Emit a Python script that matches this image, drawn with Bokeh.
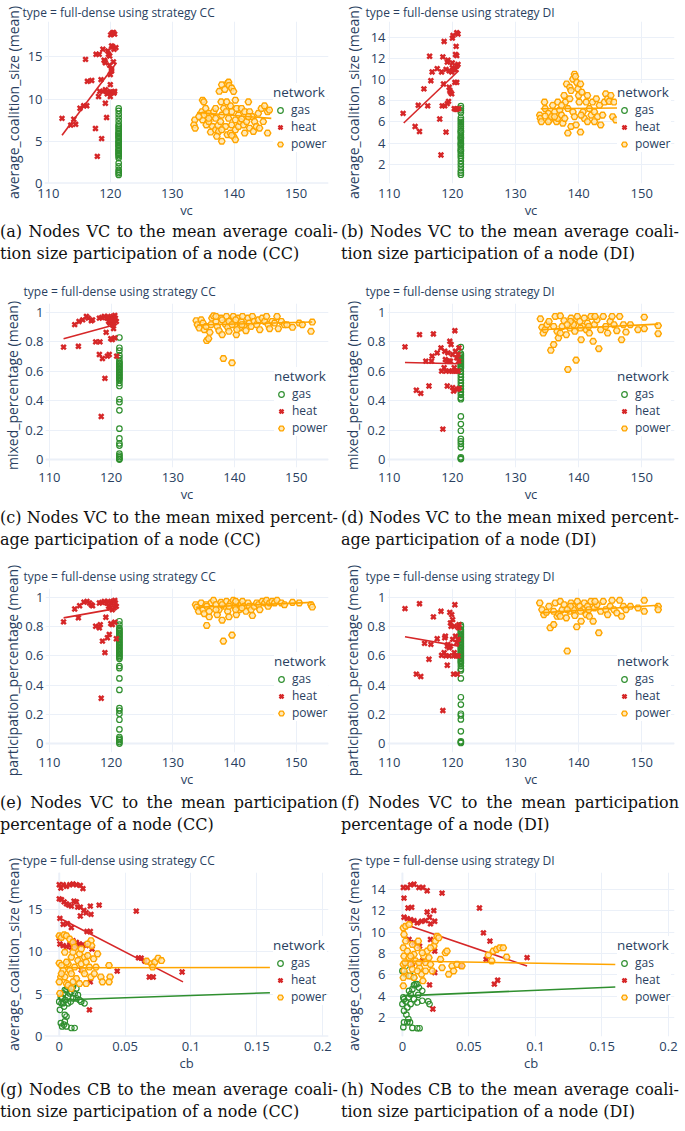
from bokeh.plotting import figure
from bokeh.models import (FixedTicker, CustomJSTickFormatter, Legend, LegendItem,
                          Span, Div, Range1d)
from bokeh.layouts import column, row
from bokeh.embed import file_html
from bokeh.resources import INLINE

# ---------------- data ----------------
GAS_VC = 121.35  # all gas nodes share the same vc value

# (a) VC vs average_coalition_size, CC
HEAT_A = [(112.2,7.7),(113.6,6.9),(114.1,7.6),(114.4,7.0),(115.1,8.9),(115.7,9.2),(116.2,9.2),
          (116.0,14.7),(116.3,12.1),(117.0,12.2),(117.6,6.5),(117.9,3.2),(117.7,15.3),(118.2,15.3),
          (118.5,12.3),(118.1,10.3),(118.6,5.3),(118.8,15.9),(119.0,14.6),(119.1,14.5),(119.2,14.3),
          (118.3,10.9),(118.8,10.9),(119.2,9.5),(119.4,7.8),(119.7,15.3),(119.9,15.1),(120.05,17.6),
          (120.3,17.8),(120.5,17.9),(120.7,17.7),(120.2,16.3),(120.4,16.2),(120.0,10.8),(120.2,10.8),
          (120.4,10.8),(120.6,10.7),(120.0,11.7),(120.2,13.5),(120.0,12.9),(120.2,13.3),(119.6,15.7),
          (120.5,14.4),(119.9,14.0),(120.7,10.9),(119.5,10.6),(120.0,10.3),(119.2,11.1),(119.5,10.9),
          (120.6,15.9),(120.9,16.1)]
POWER_A = [(133.65,7.52),(133.5,6.93),(133.7,6.54),(134.9,9.86),(135.1,9.66),(134.8,8.49),(135.4,8.88),
           (135.7,8.10),(135.9,8.30),(134.9,7.52),(135.5,6.93),(135.9,7.32),(136.3,7.91),(136.7,8.49),
           (137.0,8.88),(136.5,6.74),(136.2,6.08),(137.0,6.35),(137.4,6.86),(137.8,7.32),(138.0,8.10),
           (138.3,8.88),(137.9,9.66),(137.6,10.91),(138.0,11.69),(138.5,11.14),(138.9,11.84),(139.1,12.0),
           (139.2,11.6),(139.6,11.3),(139.9,10.9),(140.2,9.86),(140.4,8.88),(140.7,8.10),(139.6,8.49),
           (139.4,9.19),(138.8,9.66),(138.7,8.49),(139.1,7.71),(139.6,6.93),(140.2,6.35),(140.7,6.74),
           (137.5,6.15),(138.0,4.99),(138.9,5.77),(139.4,5.96),(139.9,5.57),(140.2,5.18),(138.6,6.74),
           (137.0,7.71),(141.2,8.88),(141.7,8.49),(142.3,9.66),(142.5,8.49),(142.9,7.91),(143.3,7.32),
           (143.9,8.30),(144.4,8.88),(144.9,9.19),(145.4,8.49),(145.7,8.69),(141.0,7.32),(141.5,6.93),
           (142.0,7.32),(142.5,6.54),(143.1,6.15),(143.6,6.74),(144.1,6.54),(141.7,5.96),(139.6,5.69),
           (138.0,6.35),(137.2,5.57),(135.9,7.71),(135.1,8.10),(134.3,7.91),(145.4,5.96),(144.7,7.32),
           (142.3,7.91),(141.2,7.64),(140.2,7.52)]
GAS_A = [8.9, 8.6, 8.2, 7.8, 7.4, 7.0, 6.8, 6.6, 6.4, 6.2, 6.0, 5.8, 5.6, 5.4, 5.2, 5.0, 4.8, 4.6,
         4.4, 4.2, 4.0, 3.8, 3.6, 3.4, 3.2, 3.0, 2.4, 2.0, 1.6, 1.4, 1.2, 1.0, 5.9, 5.5, 4.9, 4.5, 3.9, 3.5]
TREND_HEAT_A = [(112.2, 5.7), (121.0, 14.3)]
TREND_POWER_A = [(134.0, 8.4), (146.0, 7.7)]

# (b) VC vs average_coalition_size, DI
HEAT_B = [(112.2,6.81),(114.1,5.57),(114.8,5.10),(114.6,7.58),(115.5,9.13),(116.1,7.52),(116.4,12.23),
          (116.6,9.91),(116.8,10.74),(117.6,11.05),(118.0,6.28),(118.2,2.87),(118.3,10.74),(118.4,7.52),
          (118.5,12.17),(118.7,13.63),(118.6,9.60),(118.8,7.52),(119.0,5.04),(119.0,10.99),(119.2,11.67),
          (119.3,11.86),(119.4,7.95),(119.2,7.74),(119.5,9.29),(119.6,8.98),(119.7,8.82),(119.9,10.74),
          (120.0,13.94),(120.1,14.19),(120.3,7.27),(120.5,7.21),(120.7,7.21),(121.0,7.27),(120.4,9.75),
          (120.7,9.75),(120.5,10.99),(120.7,11.30),(120.9,11.46),(120.5,12.39),(120.7,12.29),(120.6,13.16),
          (120.7,14.47),(120.9,14.34),(120.0,11.15),(119.5,10.84),(120.2,10.93),(119.9,8.67),(120.0,11.6)]
POWER_B = [(133.85,6.65),(133.95,6.34),(134.1,6.03),(134.6,7.89),(134.7,7.27),(135.2,6.81),(135.4,6.19),
           (135.7,6.50),(135.9,7.58),(136.2,6.96),(136.5,6.03),(136.7,6.34),(137.0,7.12),(137.3,6.65),
           (137.5,5.88),(137.7,8.51),(137.9,7.89),(138.1,9.60),(138.3,4.95),(138.6,9.29),(138.8,8.98),
           (139.1,10.06),(139.35,10.53),(139.5,10.31),(139.7,9.75),(139.9,9.13),(140.0,8.51),(140.1,7.89),
           (140.3,9.60),(140.5,8.82),(140.7,6.96),(138.8,5.57),(139.6,5.72),(140.3,5.04),(140.9,6.34),
           (141.2,7.89),(141.4,8.51),(141.7,7.27),(142.0,6.65),(142.2,7.89),(142.5,6.96),(142.8,8.20),
           (143.0,6.50),(143.3,7.58),(143.5,5.72),(143.8,6.65),(144.1,7.89),(144.3,8.67),(144.6,8.20),
           (144.85,7.95),(145.1,8.51),(145.4,6.50),(145.6,7.89),(145.9,6.19),(136.7,7.89),(137.3,7.58),
           (138.3,7.27),(139.1,6.96),(139.35,6.50),(140.4,6.65),(141.4,6.03),(137.8,6.34),(136.2,6.50),
           (135.2,6.03),(134.7,6.56),(138.6,8.20),(142.5,6.03)]
GAS_B = [7.5, 7.3, 7.1, 6.9, 6.4, 6.2, 6.0, 5.8, 5.6, 5.4, 5.2, 5.0, 4.8, 4.6, 4.4, 4.2, 4.0, 3.8,
         3.6, 3.4, 3.2, 3.0, 2.8, 2.6, 2.3, 2.0, 1.7, 1.4, 1.2, 1.0, 5.1, 4.5, 3.9, 3.3]
TREND_HEAT_B = [(112.3, 5.9), (121.0, 10.85)]
TREND_POWER_B = [(134.0, 7.25), (146.2, 7.32)]

# (c) VC vs mixed_percentage, CC
HEAT_C = [(112.3,0.764),(114.1,0.917),(114.7,0.770),(114.8,0.939),(115.4,0.950),(116.0,0.973),
          (116.3,0.962),(116.8,0.944),(117.0,0.950),(117.5,0.800),(118.2,0.800),(118.1,0.714),
          (118.4,0.293),(118.6,0.687),(119.0,0.552),(119.2,0.865),(119.4,0.703),(119.7,0.714),
          (119.95,0.822),(120.2,0.815),(120.6,0.827),(120.4,0.890),(120.05,0.962),(120.3,0.973),
          (120.6,0.980),(120.85,0.939),(119.6,0.939),(119.3,0.962),(118.9,0.973),(118.5,0.966),
          (118.1,0.962),(119.8,0.928),(120.2,0.917),(120.5,0.928),(120.7,0.962),(120.9,0.703),
          (120.5,0.950),(119.95,0.950),(119.5,0.973)]
POWER_C = [(133.8,0.944),(134.0,0.917),(134.3,0.894),(134.6,0.950),(134.9,0.928),(135.1,0.883),
           (135.5,0.809),(135.8,0.822),(136.0,0.865),(136.35,0.962),(136.6,0.977),(137.0,0.939),
           (137.2,0.905),(137.5,0.876),(137.8,0.962),(138.0,0.849),(138.2,0.687),(138.5,0.921),
           (138.7,0.973),(138.9,0.899),(139.1,0.872),(139.4,0.950),(139.6,0.658),(139.8,0.973),
           (140.05,0.917),(140.3,0.849),(140.6,0.962),(140.8,0.894),(141.1,0.939),(141.3,0.973),
           (141.6,0.917),(141.85,0.876),(142.2,0.962),(142.4,0.928),(142.7,0.905),(142.9,0.973),
           (143.2,0.939),(143.6,0.917),(143.9,0.950),(144.1,0.883),(144.5,0.962),(144.9,0.939),
           (145.2,0.973),(145.45,0.917),(145.7,0.890),(146.1,0.939),(146.5,0.928),(146.9,0.973),
           (147.1,0.890),(147.6,0.939),(148.1,0.917),(148.5,0.917),(149.4,0.899),(150.5,0.928),
           (151.0,0.917),(152.4,0.872),(152.6,0.935),(137.0,0.973),(138.0,0.950),(139.1,0.939),
           (140.2,0.950),(141.2,0.917),(135.4,0.905),(136.2,0.917),(139.6,0.917),(140.4,0.883)]
GAS_C = [0.83, 0.76, 0.74, 0.71, 0.69, 0.67, 0.66, 0.65, 0.64, 0.63, 0.62, 0.61, 0.60, 0.59, 0.58,
         0.57, 0.56, 0.55, 0.54, 0.52, 0.50, 0.41, 0.39, 0.335, 0.21, 0.144, 0.11, 0.095, 0.04,
         0.027, 0.016, 0.005, 0.0]
TREND_HEAT_C = [(112.3, 0.822), (120.9, 0.92)]
TREND_POWER_C = [(134.0, 0.915), (152.6, 0.935)]

# (d) VC vs mixed_percentage, DI
HEAT_D = [(112.5,0.766),(114.8,0.849),(114.3,0.471),(115.0,0.450),(115.8,0.669),(116.3,0.500),
          (116.7,0.669),(116.8,0.703),(117.0,0.854),(117.6,0.725),(118.2,0.759),(118.5,0.207),
          (118.3,0.601),(118.7,0.624),(118.8,0.736),(119.0,0.601),(119.2,0.500),(119.3,0.725),
          (119.5,0.669),(119.6,0.804),(119.8,0.782),(119.9,0.601),(120.05,0.489),(120.2,0.466),
          (120.4,0.876),(120.5,0.736),(120.7,0.691),(120.9,0.714),(120.6,0.601),(120.8,0.477),
          (121.0,0.669),(119.7,0.669),(120.3,0.624),(119.2,0.669),(119.5,0.601),(120.2,0.601),
          (120.9,0.601),(120.05,0.714),(121.05,0.759),(121.1,0.484),(118.9,0.680)]
POWER_D = [(133.95,0.957),(134.2,0.899),(134.4,0.860),(134.7,0.883),(135.0,0.917),(135.6,0.743),
           (136.05,0.782),(136.3,0.973),(136.6,0.872),(136.8,0.827),(137.1,0.977),(137.4,0.905),
           (137.7,0.944),(138.05,0.849),(138.3,0.613),(138.6,0.894),(138.8,0.962),(139.1,0.928),
           (139.4,0.872),(139.6,0.676),(139.8,0.973),(140.2,0.939),(140.4,0.815),(140.7,0.905),
           (140.9,0.962),(141.2,0.883),(141.4,0.928),(141.7,0.860),(141.95,0.973),(142.3,0.804),
           (142.5,0.917),(142.9,0.950),(143.2,0.754),(143.5,0.883),(143.9,0.973),(144.3,0.905),
           (144.6,0.860),(145.0,0.939),(145.3,0.973),(145.6,0.917),(146.05,0.876),(146.5,0.973),
           (146.8,0.815),(147.1,0.917),(147.5,0.867),(148.2,0.917),(149.4,0.883),(150.4,0.890),
           (150.4,0.968),(152.6,0.910),(152.6,0.856),(139.2,0.917),(138.7,0.939),(140.3,0.894),
           (141.6,0.905),(137.1,0.860),(138.2,0.917),(136.05,0.905),(135.3,0.939),(142.6,0.973)]
GAS_D = [0.764, 0.72, 0.71, 0.70, 0.69, 0.68, 0.67, 0.66, 0.65, 0.64, 0.63, 0.62, 0.60, 0.58, 0.56,
         0.54, 0.52, 0.50, 0.48, 0.46, 0.44, 0.42, 0.41, 0.293, 0.241, 0.196, 0.14, 0.124, 0.106,
         0.083, 0.015, 0.008, 0.003]
TREND_HEAT_D = [(112.5, 0.66), (121.0, 0.651)]
TREND_POWER_D = [(134.0, 0.883), (152.6, 0.921)]

# (e) VC vs participation_percentage, CC
HEAT_E = [(112.3,0.833),(114.1,0.921),(114.7,0.860),(114.9,0.943),(115.6,0.968),(116.1,0.973),
          (116.5,0.962),(116.8,0.950),(117.0,0.943),(117.5,0.803),(118.1,0.792),(118.4,0.310),
          (118.25,0.814),(118.6,0.701),(119.0,0.622),(119.15,0.864),(119.4,0.724),(119.7,0.747),
          (119.95,0.821),(120.2,0.814),(120.6,0.830),(120.85,0.717),(120.05,0.962),(120.3,0.973),
          (120.6,0.980),(120.85,0.939),(119.6,0.939),(119.3,0.962),(118.9,0.973),(118.5,0.966),
          (118.1,0.962),(119.8,0.928),(120.2,0.916),(120.5,0.928),(120.7,0.962),(119.5,0.973)]
POWER_E = [(133.7,0.950),(133.9,0.934),(134.2,0.905),(134.6,0.962),(134.9,0.916),(135.1,0.889),
           (135.5,0.808),(135.9,0.867),(136.2,0.962),(136.6,0.980),(137.0,0.950),(137.2,0.882),
           (137.5,0.916),(137.8,0.966),(138.0,0.844),(138.2,0.701),(138.5,0.939),(138.7,0.973),
           (138.9,0.905),(139.1,0.867),(139.4,0.962),(139.6,0.742),(139.8,0.980),(140.05,0.939),
           (140.3,0.882),(140.6,0.962),(140.8,0.916),(141.1,0.950),(141.3,0.973),(141.6,0.939),
           (141.85,0.905),(142.2,0.962),(142.4,0.939),(142.7,0.916),(142.9,0.876),(143.2,0.939),
           (143.6,0.962),(143.9,0.950),(144.1,0.916),(144.5,0.973),(144.9,0.962),(145.2,0.980),
           (145.45,0.939),(145.7,0.962),(146.1,0.973),(146.5,0.962),(146.9,0.980),(147.6,0.962),
           (148.1,0.950),(149.4,0.966),(150.5,0.962),(152.4,0.950),(152.6,0.934),(135.4,0.950),
           (137.0,0.916),(138.0,0.950),(139.1,0.939),(140.2,0.916),(141.2,0.928),(135.5,0.939),
           (135.9,0.905),(140.2,0.973)]
GAS_E = [0.837, 0.814, 0.79, 0.78, 0.77, 0.76, 0.75, 0.74, 0.73, 0.72, 0.71, 0.70, 0.69, 0.68,
         0.67, 0.66, 0.65, 0.64, 0.63, 0.62, 0.61, 0.60, 0.59, 0.58, 0.53, 0.516, 0.446, 0.367,
         0.242, 0.226, 0.204, 0.163, 0.097, 0.045, 0.034, 0.023, 0.01, 0.0]
TREND_HEAT_E = [(112.3, 0.86), (120.9, 0.925)]
TREND_POWER_E = [(133.8, 0.932), (152.6, 0.966)]

# (f) VC vs participation_percentage, DI
HEAT_F = [(112.5,0.923),(114.8,0.957),(114.3,0.475),(115.0,0.459),(115.6,0.686),(116.3,0.577),
          (116.6,0.679),(117.0,0.867),(117.6,0.717),(118.2,0.905),(118.5,0.226),(118.3,0.604),
          (118.7,0.622),(118.8,0.724),(119.0,0.600),(119.2,0.536),(119.3,0.679),(119.5,0.656),
          (119.6,0.898),(119.8,0.803),(119.9,0.882),(120.05,0.848),(120.2,0.475),(120.4,0.950),
          (120.5,0.735),(120.7,0.690),(120.9,0.713),(120.6,0.600),(120.8,0.475),(121.0,0.792),
          (119.7,0.667),(120.3,0.622),(119.2,0.667),(119.5,0.600),(120.2,0.600),(120.9,0.600),
          (120.05,0.713),(121.05,0.814),(120.3,0.803),(118.9,0.735),(119.7,0.826)]
POWER_F = [(133.85,0.962),(134.2,0.916),(134.5,0.882),(134.9,0.898),(135.5,0.792),(136.05,0.814),
           (136.3,0.962),(136.6,0.871),(136.8,0.889),(137.1,0.973),(137.4,0.916),(137.7,0.950),
           (138.2,0.633),(138.05,0.860),(138.6,0.905),(138.8,0.962),(139.1,0.939),(139.4,0.876),
           (139.7,0.799),(139.8,0.973),(140.2,0.939),(140.4,0.837),(140.7,0.916),(140.9,0.962),
           (141.2,0.882),(141.4,0.939),(141.7,0.871),(141.95,0.973),(142.3,0.837),(142.5,0.928),
           (142.9,0.950),(143.2,0.758),(143.5,0.905),(143.9,0.973),(144.3,0.916),(144.6,0.882),
           (145.0,0.939),(145.3,0.980),(145.6,0.916),(146.05,0.894),(146.5,0.980),(146.8,0.871),
           (147.1,0.939),(147.5,0.916),(148.2,0.939),(149.4,0.928),(150.4,0.980),(150.4,0.905),
           (152.6,0.939),(152.6,0.916),(139.2,0.916),(138.7,0.939),(140.3,0.905),(141.6,0.916),
           (137.1,0.871),(138.2,0.916),(136.05,0.905),(135.3,0.939),(142.6,0.973)]
GAS_F = [0.81, 0.80, 0.78, 0.77, 0.76, 0.75, 0.74, 0.73, 0.72, 0.71, 0.70, 0.69, 0.68, 0.67, 0.66,
         0.65, 0.64, 0.63, 0.62, 0.61, 0.60, 0.59, 0.58, 0.57, 0.56, 0.55, 0.53, 0.51, 0.50, 0.446,
         0.317, 0.267, 0.204, 0.192, 0.165, 0.084, 0.016, 0.01, 0.004]
TREND_HEAT_F = [(112.5, 0.731), (121.0, 0.667)]
TREND_POWER_F = [(134.0, 0.894), (152.6, 0.946)]

# (g) CB vs average_coalition_size, CC
HEAT_G = [(0.0,17.97),(0.0012,17.58),(0.003,17.97),(0.0055,17.77),(0.008,17.97),(0.0104,18.05),
          (0.013,17.97),(0.016,17.89),(0.018,17.5),(0.0,16.29),(0.0017,16.21),(0.0037,15.94),
          (0.0055,15.70),(0.0072,15.55),(0.0092,15.43),(0.0112,16.02),(0.013,15.94),(0.014,15.31),
          (0.016,15.31),(0.0187,14.92),(0.0204,14.65),(0.016,14.26),(0.0236,15.43),(0.0241,14.45),
          (0.0303,15.55),(0.0585,14.84),(0.0005,13.98),(0.003,13.28),(0.0062,13.36),(0.0092,12.89),
          (0.0211,12.42),(0.0236,12.42),(0.0,11.64),(0.0005,10.94),(0.003,10.74),(0.0055,10.63),
          (0.008,10.86),(0.0104,11.33),(0.013,11.13),(0.0154,10.94),(0.018,10.86),(0.0204,10.74),
          (0.0249,10.35),(0.0092,10.55),(0.0117,10.63),(0.0167,7.89),(0.0236,6.45),(0.0229,3.13),
          (0.044,7.73),(0.0602,9.30),(0.0622,9.26),(0.065,8.91),(0.0684,7.03),(0.0714,7.03),
          (0.0933,7.62)]
POWER_G = [(0.0,11.91),(0.0017,11.72),(0.0037,12.03),(0.0055,11.91),(0.008,11.52),(0.0104,11.13),
           (0.0,8.67),(0.0012,7.03),(0.0,6.45),(0.0005,5.08),(0.0017,8.40),(0.003,7.81),(0.0042,7.03),
           (0.0055,6.25),(0.0067,8.59),(0.008,7.81),(0.0092,9.38),(0.0104,9.96),(0.0117,8.20),
           (0.013,6.84),(0.0142,8.98),(0.0154,9.77),(0.0167,8.59),(0.018,7.81),(0.0192,9.38),
           (0.0204,8.79),(0.0216,9.57),(0.0229,8.20),(0.0241,11.33),(0.0246,10.74),(0.0261,9.18),
           (0.0279,8.20),(0.0316,7.03),(0.0328,6.45),(0.0378,8.40),(0.0386,7.03),(0.0378,6.45),
           (0.0241,7.03),(0.0204,6.25),(0.0154,6.25),(0.0104,6.45),(0.0067,6.05),(0.0664,8.91),
           (0.0701,8.59),(0.0726,8.79),(0.0751,9.26),(0.0776,8.98),(0.0709,8.20),(0.0117,10.55),
           (0.0167,10.35),(0.0042,9.96),(0.0017,7.42),(0.0092,7.42),(0.0192,7.42),(0.0266,7.42),
           (0.0216,10.94),(0.0055,8.79),(0.0291,9.77),(0.0092,5.66)]
GAS_G = [(0.0,4.10),(0.0005,3.13),(0.0012,1.56),(0.0022,1.17),(0.0037,1.37),(0.0055,1.17),
         (0.0042,1.76),(0.0055,2.34),(0.0042,2.54),(0.0022,4.49),(0.003,5.08),(0.0042,5.47),
         (0.0062,5.86),(0.008,6.05),(0.0092,5.27),(0.0104,5.86),(0.0117,5.08),(0.013,5.66),
         (0.0142,4.88),(0.0154,4.30),(0.0067,4.69),(0.0047,4.30),(0.0017,3.91),(0.0037,3.52),
         (0.0067,3.91),(0.0087,4.10),(0.0104,4.49),(0.003,3.91),(0.0092,0.98),(0.0117,0.98),
         (0.0167,4.10),(0.0192,3.91),(0.0012,4.69),(0.008,5.08),(0.013,4.49),(0.0055,5.47)]
TREND_HEAT_G = [(0.0005, 14.0), (0.094, 6.45)]
TREND_POWER_G = [(0.0005, 8.13), (0.16, 8.15)]
TREND_GAS_G = [(0.0005, 4.3), (0.16, 5.16)]

# (h) CB vs average_coalition_size, DI
HEAT_H = [(0.0012,13.21),(0.0007,14.21),(0.0037,14.21),(0.0062,14.46),(0.0087,14.52),(0.0124,14.21),
          (0.0154,14.21),(0.0186,13.90),(0.0298,13.68),(0.0042,12.28),(0.007,12.34),(0.0012,11.41),
          (0.0037,11.28),(0.0062,11.19),(0.0087,11.10),(0.0112,10.88),(0.0144,11.03),(0.0174,11.10),
          (0.0204,11.41),(0.0236,12.03),(0.0243,11.03),(0.0186,11.9),(0.0211,10.79),(0.005,9.32),
          (0.0087,9.01),(0.0129,8.70),(0.0211,9.32),(0.0243,8.23),(0.0075,7.05),(0.0149,7.30),
          (0.0243,6.21),(0.0204,5.05),(0.0229,2.78),(0.0442,6.83),(0.0579,12.28),(0.0609,9.94),
          (0.0658,9.17),(0.0629,7.45),(0.0716,5.49),(0.0691,5.12),(0.0937,7.61)]
POWER_H = [(0.0007,10.41),(0.0025,10.57),(0.005,10.72),(0.0012,9.79),(0.0007,8.54),(0.0012,7.76),
           (0.0007,6.98),(0.0012,6.36),(0.0007,5.74),(0.0007,4.96),(0.0037,8.23),(0.005,7.61),
           (0.0062,6.98),(0.0075,6.52),(0.0087,7.92),(0.0099,7.30),(0.0112,8.54),(0.0119,9.17),
           (0.0129,6.67),(0.0144,6.05),(0.0154,5.43),(0.0161,7.76),(0.0174,7.14),(0.0186,8.23),
           (0.0199,7.61),(0.0211,6.98),(0.0224,6.36),(0.0236,8.70),(0.0248,9.17),(0.0261,9.63),
           (0.0273,9.48),(0.0286,7.45),(0.0298,6.67),(0.0323,8.07),(0.0335,8.23),(0.0348,6.05),
           (0.0373,6.83),(0.0385,6.36),(0.041,6.98),(0.0447,6.83),(0.0646,7.86),(0.0683,8.23),
           (0.0708,8.39),(0.0733,8.54),(0.0758,8.54),(0.0783,7.67),(0.0671,7.30),(0.0025,9.17),
           (0.0075,8.85),(0.0124,7.14),(0.0174,6.36),(0.005,5.89),(0.0087,5.74),(0.002,7.14),
           (0.0062,7.76),(0.0149,8.07),(0.0211,8.54),(0.0112,6.36)]
GAS_H = [(0.0012,2.62),(0.003,2.25),(0.0045,1.84),(0.0057,1.53),(0.0075,1.00),(0.0112,0.97),
         (0.0129,0.97),(0.0012,3.71),(0.0025,3.50),(0.0045,3.87),(0.0062,4.18),(0.0075,4.65),
         (0.0087,5.02),(0.0099,5.12),(0.0124,4.80),(0.0149,4.49),(0.0119,4.12),(0.0087,3.71),
         (0.0112,3.40),(0.0149,3.56),(0.0194,3.50),(0.0204,3.25),(0.0,3.25),(0.0007,3.87),
         (0.005,4.49),(0.0062,3.25),(0.0037,2.93),(0.0012,1.53),(0.0037,1.53),(0.0007,1.07),
         (0.0025,6.05),(0.0062,5.89),(0.0087,5.74),(0.0112,5.12),(0.0025,6.83),(0.0,6.36)]
TREND_HEAT_H = [(0.0007, 10.79), (0.0937, 6.83)]
TREND_POWER_H = [(0.0007, 7.30), (0.16, 6.97)]
TREND_GAS_H = [(0.0007, 4.02), (0.16, 4.85)]

VC_TICKS = [110, 120, 130, 140, 150]
CB_TICKS = [0, 0.05, 0.1, 0.15, 0.2]
ACS_TICKS_5 = [0, 5, 10, 15]
ACS_TICKS_2 = [2, 4, 6, 8, 10, 12, 14]
PCT_TICKS = [0, 0.2, 0.4, 0.6, 0.8, 1]

CAPTIONS = [
    ("(a) Nodes VC to the mean average coali-", "tion size participation of a node (CC)"),
    ("(b) Nodes VC to the mean average coali-", "tion size participation of a node (DI)"),
    ("(c) Nodes VC to the mean mixed percent-", "age participation of a node (CC)"),
    ("(d) Nodes VC to the mean mixed percent-", "age participation of a node (DI)"),
    ("(e) Nodes VC to the mean participation", "percentage of a node (CC)"),
    ("(f) Nodes VC to the mean participation", "percentage of a node (DI)"),
    ("(g) Nodes CB to the mean average coali-", "tion size participation of a node (CC)"),
    ("(h) Nodes CB to the mean average coali-", "tion size participation of a node (DI)"),
]

# ---------------- styling ----------------
FONT = "Open Sans"
TXT = "#2a3f5f"
GRID = "#EBF0F8"
C_GAS = "#2f8f2f"
C_HEAT = "#d62728"
C_POWER = "#ffa500"
FRAME_H = 165
BOTTOM = 41
COL_W = (340, 345)
LEFT = (39, 45)
RIGHT = (12, 11)


def xs(pairs):
    return [a for a, _ in pairs]


def ys(pairs):
    return [b for _, b in pairs]


def panel(col, first, strategy, xlabel, ylabel, xr, yr, xticks, yticks,
          gas_x, gas_y, heat, power, trends, ylab_standoff):
    top = 18 if first else 26
    height = top + FRAME_H + BOTTOM
    p = figure(width=COL_W[col], height=height, x_range=Range1d(*xr), y_range=Range1d(*yr),
               output_backend="svg", toolbar_location=None,
               min_border_left=LEFT[col], min_border_right=RIGHT[col],
               min_border_top=top, min_border_bottom=BOTTOM)
    p.outline_line_color = None
    p.background_fill_color = "white"
    p.border_fill_color = "white"

    p.title.text = f"type = full-dense using strategy {strategy}"
    p.title.text_font = FONT
    p.title.text_font_size = "12px"
    p.title.text_font_style = "normal"
    p.title.text_color = TXT
    p.title.align = "left"
    p.title.offset = -22
    p.title.standoff = 2 if first else 8

    fmt = CustomJSTickFormatter(code="return (Math.round(tick*1000)/1000).toString();")
    for ax, ticks in ((p.xaxis[0], xticks), (p.yaxis[0], yticks)):
        ax.ticker = FixedTicker(ticks=ticks)
        ax.formatter = fmt
        ax.axis_line_color = None
        ax.major_tick_line_color = None
        ax.minor_tick_line_color = None
        ax.major_tick_out = 0
        ax.major_tick_in = 0
        ax.minor_tick_out = 0
        ax.minor_tick_in = 0
        ax.major_label_text_font = FONT
        ax.major_label_text_font_size = "13px"
        ax.major_label_text_color = TXT
        ax.axis_label_text_font = FONT
        ax.axis_label_text_font_style = "normal"
        ax.axis_label_text_color = TXT
    p.xaxis.axis_label = xlabel
    p.xaxis.axis_label_text_font_size = "13px"
    p.xaxis.major_label_standoff = 5
    p.xaxis.axis_label_standoff = 0
    p.yaxis.axis_label = ylabel
    p.yaxis.axis_label_text_font_size = "14px"
    p.yaxis.major_label_standoff = 2
    p.yaxis.axis_label_standoff = ylab_standoff
    p.xgrid.ticker = FixedTicker(ticks=xticks)
    p.ygrid.ticker = FixedTicker(ticks=yticks)
    p.xgrid.grid_line_color = GRID
    p.ygrid.grid_line_color = GRID
    # plotly-like zero lines
    if yr[0] <= 0 <= yr[1]:
        p.add_layout(Span(location=0, dimension="width", line_color=GRID, line_width=2, level="underlay"))
    if xr[0] <= 0 <= xr[1]:
        p.add_layout(Span(location=0, dimension="height", line_color=GRID, line_width=2, level="underlay"))

    r_gas = p.scatter(gas_x, gas_y, marker="circle", size=5.5, fill_color=None,
                      line_color=C_GAS, line_width=1.2)
    if "gas" in trends:
        t = trends["gas"]
        p.line(xs(t), ys(t), line_color=C_GAS, line_width=1.6)
    r_heat = p.scatter(xs(heat), ys(heat), marker="x", size=6.5, line_color=C_HEAT, line_width=2.5)
    if "heat" in trends:
        t = trends["heat"]
        p.line(xs(t), ys(t), line_color=C_HEAT, line_width=1.6)
    r_power = p.scatter(xs(power), ys(power), marker="hex", size=6.5, fill_color="#ffe3a8",
                        fill_alpha=0.8, line_color=C_POWER, line_width=1.4)
    if "power" in trends:
        t = trends["power"]
        p.line(xs(t), ys(t), line_color=C_POWER, line_width=1.6)

    legend = Legend(items=[LegendItem(label="gas", renderers=[r_gas]),
                           LegendItem(label="heat", renderers=[r_heat]),
                           LegendItem(label="power", renderers=[r_power])],
                    title="network", location=(229 if col == 0 else 230, 31))
    legend.background_fill_color = "white"
    legend.background_fill_alpha = 1.0
    legend.border_line_color = None
    legend.padding = 2
    legend.margin = 0
    legend.spacing = 0
    legend.glyph_width = 14
    legend.glyph_height = 16
    legend.label_height = 16
    legend.label_standoff = 4
    legend.title_standoff = 0
    legend.title_text_font = FONT
    legend.title_text_font_size = "13.5px"
    legend.title_text_font_style = "normal"
    legend.title_text_color = TXT
    legend.label_text_font = FONT
    legend.label_text_font_size = "12px"
    legend.label_text_color = TXT
    p.add_layout(legend)
    return p


def caption(lines, col, height, shift):
    l1, l2 = lines
    width = COL_W[col]
    pad = 0 if col == 0 else 1
    inner = 338 if col == 0 else 339
    html = ('<div style="font-family:\'DejaVu Serif\',serif;font-size:16px;line-height:22px;'
            f'color:#111;width:{inner}px;margin-top:{shift}px;padding-left:{pad}px;">'
            f'<div style="text-align:justify;text-align-last:justify;white-space:nowrap;">{l1}</div>'
            f'<div style="white-space:nowrap;">{l2}</div></div>')
    return Div(text=html, width=width, height=height, margin=0)


VC_RANGE_A = (109.37, 155.24)
VC_RANGE_B = (109.73, 155.19)
CB_RANGE_A = (-0.0112, 0.2045)
CB_RANGE_B = (-0.0112, 0.2045)

pa = panel(0, True, "CC", "vc", "average_coalition_size (mean)", VC_RANGE_A, (-0.02, 19.19),
           VC_TICKS, ACS_TICKS_5, [GAS_VC] * len(GAS_A), GAS_A, HEAT_A, POWER_A,
           {"heat": TREND_HEAT_A, "power": TREND_POWER_A}, 2)
pb = panel(1, True, "DI", "vc", "average_coalition_size (mean)", VC_RANGE_B, (0.17, 15.52),
           VC_TICKS, ACS_TICKS_2, [GAS_VC] * len(GAS_B), GAS_B, HEAT_B, POWER_B,
           {"heat": TREND_HEAT_B, "power": TREND_POWER_B}, 5)
pc = panel(0, False, "CC", "vc", "mixed_percentage (mean)", VC_RANGE_A, (-0.054, 1.061),
           VC_TICKS, PCT_TICKS, [GAS_VC] * len(GAS_C), GAS_C, HEAT_C, POWER_C,
           {"heat": TREND_HEAT_C, "power": TREND_POWER_C}, 0)
pd_ = panel(1, False, "DI", "vc", "mixed_percentage (mean)", VC_RANGE_B, (-0.054, 1.061),
            VC_TICKS, PCT_TICKS, [GAS_VC] * len(GAS_D), GAS_D, HEAT_D, POWER_D,
            {"heat": TREND_HEAT_D, "power": TREND_POWER_D}, 2)
pe = panel(0, False, "CC", "vc", "participation_percentage (mean)", VC_RANGE_A, (-0.061, 1.061),
           VC_TICKS, PCT_TICKS, [GAS_VC] * len(GAS_E), GAS_E, HEAT_E, POWER_E,
           {"heat": TREND_HEAT_E, "power": TREND_POWER_E}, 0)
pf = panel(1, False, "DI", "vc", "participation_percentage (mean)", VC_RANGE_B, (-0.061, 1.061),
           VC_TICKS, PCT_TICKS, [GAS_VC] * len(GAS_F), GAS_F, HEAT_F, POWER_F,
           {"heat": TREND_HEAT_F, "power": TREND_POWER_F}, 2)
pg = panel(0, False, "CC", "cb", "average_coalition_size (mean)", CB_RANGE_A, (-0.03, 19.42),
           CB_TICKS, ACS_TICKS_5, xs(GAS_G), ys(GAS_G), HEAT_G, POWER_G,
           {"gas": TREND_GAS_G, "heat": TREND_HEAT_G, "power": TREND_POWER_G}, 2)
ph = panel(1, False, "DI", "cb", "average_coalition_size (mean)", CB_RANGE_B, (0.196, 15.62),
           CB_TICKS, ACS_TICKS_2, xs(GAS_H), ys(GAS_H), HEAT_H, POWER_H,
           {"gas": TREND_GAS_H, "heat": TREND_HEAT_H, "power": TREND_POWER_H}, 5)

figs = [(pa, pb), (pc, pd_), (pe, pf), (pg, ph)]
CAP_H = (52, 53, 52, 50)
CAP_SHIFT = (-3, -1, -1, 2)
children = []
for i, (fl, fr) in enumerate(figs):
    children.append(row(fl, fr))
    children.append(row(caption(CAPTIONS[2 * i], 0, CAP_H[i], CAP_SHIFT[i]),
                        caption(CAPTIONS[2 * i + 1], 1, CAP_H[i], CAP_SHIFT[i])))

layout = column(*children)
open("out.html", "w").write(file_html(layout, INLINE))
